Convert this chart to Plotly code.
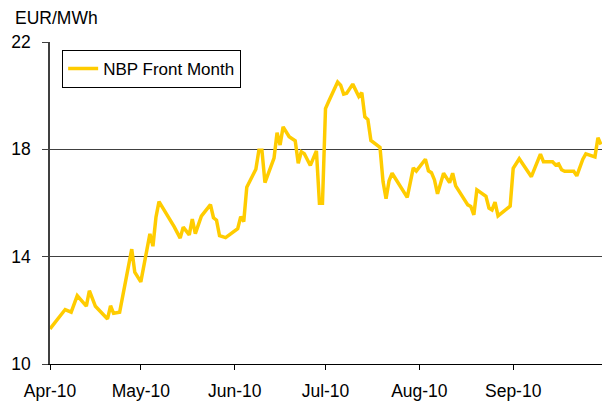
import plotly.graph_objects as go

dates = [
    "2010-04-01", "2010-04-06", "2010-04-08", "2010-04-10", "2010-04-13", "2010-04-14",
    "2010-04-16", "2010-04-20", "2010-04-21", "2010-04-22", "2010-04-24", "2010-04-26",
    "2010-04-28", "2010-04-29", "2010-05-01", "2010-05-04", "2010-05-05", "2010-05-06",
    "2010-05-07", "2010-05-12", "2010-05-14", "2010-05-15", "2010-05-17", "2010-05-18",
    "2010-05-19", "2010-05-21", "2010-05-24", "2010-05-25", "2010-05-26", "2010-05-27",
    "2010-05-29", "2010-06-02", "2010-06-03", "2010-06-04", "2010-06-05", "2010-06-08",
    "2010-06-09", "2010-06-10", "2010-06-11", "2010-06-14", "2010-06-15", "2010-06-16",
    "2010-06-17", "2010-06-19", "2010-06-21", "2010-06-22", "2010-06-23", "2010-06-24",
    "2010-06-26", "2010-06-28", "2010-06-29", "2010-06-30", "2010-07-01", "2010-07-02",
    "2010-07-05", "2010-07-06", "2010-07-07", "2010-07-08", "2010-07-10", "2010-07-12",
    "2010-07-13", "2010-07-14", "2010-07-15", "2010-07-16", "2010-07-19", "2010-07-20",
    "2010-07-21", "2010-07-22", "2010-07-23", "2010-07-28", "2010-07-30", "2010-07-31",
    "2010-08-03", "2010-08-04", "2010-08-05", "2010-08-06", "2010-08-07", "2010-08-09",
    "2010-08-11", "2010-08-12", "2010-08-13", "2010-08-17", "2010-08-18", "2010-08-19",
    "2010-08-20", "2010-08-23", "2010-08-24", "2010-08-25", "2010-08-26", "2010-08-27",
    "2010-08-31", "2010-09-01", "2010-09-03", "2010-09-07", "2010-09-09", "2010-09-10",
    "2010-09-11", "2010-09-14", "2010-09-15", "2010-09-16", "2010-09-17", "2010-09-18",
    "2010-09-21", "2010-09-22", "2010-09-24", "2010-09-25", "2010-09-28", "2010-09-29",
    "2010-09-30",
]

nbp_front_month = [
    11.31, 12.03, 11.93, 12.55, 12.16, 12.73,
    12.15, 11.68, 12.17, 11.89, 11.93, 13.10,
    14.28, 13.42, 13.06, 14.85, 14.39, 15.47,
    16.05, 15.12, 14.69, 15.10, 14.81, 15.40,
    14.86, 15.51, 15.94, 15.45, 15.36, 14.78,
    14.71, 15.04, 15.49, 15.31, 16.59, 17.26,
    17.97, 17.97, 16.76, 17.67, 18.62, 18.16,
    18.84, 18.47, 18.32, 17.48, 17.91, 17.84,
    17.40, 17.94, 15.99, 15.99, 19.52, 19.77,
    20.51, 20.39, 20.06, 20.09, 20.43, 19.97,
    20.11, 19.21, 19.11, 18.33, 18.07, 16.80,
    16.16, 16.83, 17.11, 16.21, 17.31, 17.19,
    17.63, 17.20, 17.13, 16.86, 16.34, 17.11,
    16.76, 17.11, 16.64, 15.93, 15.87, 15.56,
    16.49, 16.25, 15.81, 15.74, 16.03, 15.52,
    15.88, 17.29, 17.65, 16.98, 17.56, 17.82,
    17.54, 17.54, 17.42, 17.46, 17.24, 17.18,
    17.18, 17.01, 17.63, 17.83, 17.72, 18.43,
    18.18,
]

tick_dates = ["2010-04-01", "2010-05-01", "2010-06-01", "2010-07-01", "2010-08-01", "2010-09-01"]
tick_labels = ["Apr-10", "May-10", "Jun-10", "Jul-10", "Aug-10", "Sep-10"]
y_ticks = [10, 14, 18, 22]

FONT = "Liberation Sans, Arial, sans-serif"

fig = go.Figure()
fig.add_trace(go.Scatter(
    x=dates, y=nbp_front_month, mode="lines", name="NBP Front Month",
    line=dict(color="#FFCC00", width=3.5),
))

fig.update_layout(
    width=602, height=403,
    margin=dict(l=50, r=0, t=42, b=39),
    paper_bgcolor="white", plot_bgcolor="white",
    font=dict(family=FONT, size=17, color="black"),
    showlegend=True,
    legend=dict(
        x=0.022, y=0.975, xanchor="left", yanchor="top",
        bordercolor="black", borderwidth=1, bgcolor="white",
        font=dict(family=FONT, size=17, color="black"),
        tracegroupgap=0, itemwidth=30,
    ),
    xaxis=dict(
        type="date",
        range=["2010-04-01", "2010-09-30 08:00"],
        tickvals=tick_dates, ticktext=tick_labels,
        showgrid=False, zeroline=False,
        showline=True, linecolor="black", linewidth=1,
        ticks="outside", ticklen=5, tickcolor="black", tickwidth=1,
        tickfont=dict(family=FONT, size=17.5, color="black"),
        ticklabelstandoff=6,
    ),
    yaxis=dict(
        range=[10, 22],
        tickvals=y_ticks,
        showgrid=True, gridcolor="#404040", gridwidth=1,
        zeroline=False,
        showline=True, linecolor="#404040", linewidth=1.5,
        ticks="outside", ticklen=6, tickcolor="#404040", tickwidth=1,
        tickfont=dict(family=FONT, size=17.5, color="black"),
        ticklabelstandoff=8,
    ),
    annotations=[dict(
        text="EUR/MWh", xref="paper", yref="paper", x=0, y=1,
        xanchor="left", yanchor="bottom", xshift=-37, yshift=12,
        showarrow=False, font=dict(family=FONT, size=17.5, color="black"),
    )],
)

fig.write_html(
    "out.html",
    config={"displayModeBar": False},
    post_script="document.body.style.margin='0';",
)
